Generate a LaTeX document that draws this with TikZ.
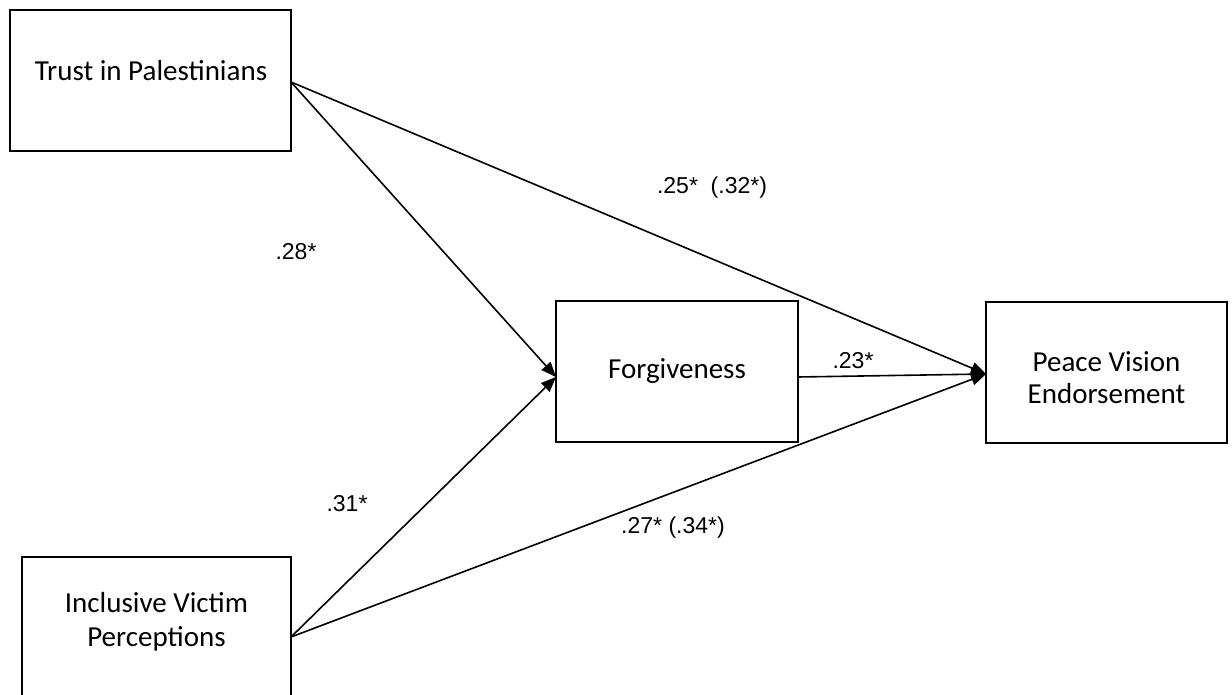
\documentclass[tikz,border=0pt]{standalone}
\usepackage{fontspec}
\setmainfont{Carlito}
\newfontfamily\labelfont{Liberation Sans}
\usetikzlibrary{arrows.meta,calc}
\begin{document}
\begin{tikzpicture}[x=1pt,y=-1pt,
  box/.style={draw=black, line width=1.9pt, inner sep=0pt, outer sep=0pt},
  boxtext/.style={font=\fontsize{29}{35}\selectfont, inner sep=0pt, anchor=base},
  coef/.style={font=\labelfont\fontsize{23}{28}\selectfont, inner sep=0pt, anchor=base},
  pathline/.style={draw=black, line width=1.6pt, -{Triangle[length=15pt,width=12pt]}}]
\useasboundingbox (0,0) rectangle (1232,695);
\clip (0,0) rectangle (1232,695);
\fill[white] (0,0) rectangle (1232,695);

% boxes
\node[box, minimum width=281pt, minimum height=141pt] (trust) at (150.5,80.5) {};
\node[box, minimum width=242pt, minimum height=141pt] (forg) at (677,371.5) {};
\node[box, minimum width=241pt, minimum height=141pt] (peace) at (1106.5,372.5) {};
\node[box, minimum width=269pt, minimum height=160pt] (incl) at (156.5,637) {};

% box texts
\node[boxtext] (trustT) at (151,81) {Trust in Palestinians};
\node[boxtext] (forgT) at (677,378) {Forgiveness};
\node[boxtext] (peaceA) at (1106.5,371) {Peace Vision};
\node[boxtext] (peaceB) at (1106.5,403) {Endorsement};
\node[boxtext] (inclA) at (156.5,612) {Inclusive Victim};
\node[boxtext] (inclB) at (156.5,646) {Perceptions};

% connector ends
\coordinate (tout) at ($(trust.east)+(0,1.5)$);
\coordinate (fin) at ($(forg.west)+(0,5.5)$);
\coordinate (fout) at ($(forg.east)+(0,5.5)$);
\coordinate (pin) at ($(peace.west)+(0,1.5)$);

% paths
\draw[pathline] (tout) -- (fin);
\draw[pathline] (tout) -- (pin);
\draw[pathline] (incl.east) -- (fin);
\draw[pathline] (incl.east) -- (pin);
\draw[pathline] (fout) -- (pin);

% coefficients
\node[coef] (c1) at (712,194) {.25*\ \ (.32*)};
\node[coef] (c2) at (296,260) {.28*};
\node[coef] (c3) at (853,368) {.23*};
\node[coef] (c4) at (347,511) {.31*};
\node[coef] (c5) at (673,533) {.27* (.34*)};
\end{tikzpicture}
\end{document}
